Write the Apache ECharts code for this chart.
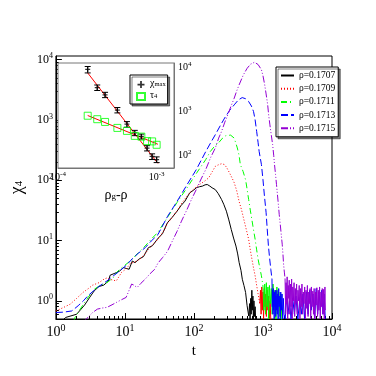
<!DOCTYPE html>
<html>
<head>
<meta charset="utf-8">
<script src="https://cdn.jsdelivr.net/npm/echarts@6/dist/echarts.min.js"></script>
<style>
  html, body { margin: 0; padding: 0; background: #fff; }
  #chart { width: 376px; height: 376px; }
</style>
</head>
<body>
<div id="chart"></div>
<script>
// main panel: chi_4(t), [t, chi4] pairs
const rho1707 = [[1.2,0.45],[1.38,0.53],[2.0,0.6],[2.6,0.85],[3.1,1.15],[3.58,1.46],[4.2,1.73],[4.93,1.82],[5.78,2.14],[6.1,2.66],[7.16,2.87],[8.4,3.13],[9.5,3.56],[11.5,3.34],[12.8,4.58],[14,4.3],[15.9,4.9],[18.6,5.42],[21.8,7.6],[25,8.2],[30,10.8],[35,13],[41.3,19.8],[48,24],[56.9,30.7],[65,38],[74,45],[87,62],[98,68],[108,75],[120,78],[133,80],[145,84],[156,85],[170,80],[183,75],[204,70],[225,60],[251,48],[270,40],[295,30.7],[320,22],[347,15.3],[375,11],[406,8.1],[430,6],[452,4.3],[480,3.2],[502,2.28],[530,1.8],[560,1.38],[589,0.83],[622,0.56]];
const tail1707 = [[640,0.9],[650,0.5],[665,1.1],[675,0.6],[690,1.5],[700,0.7],[715,1.2],[725,0.5],[740,1.0],[755,0.55],[770,0.8],[785,0.45]];

const rho1709 = [[1,0.68],[1.3,0.78],[1.61,0.88],[2.0,1.1],[2.47,1.38],[3.0,1.62],[3.4,1.82],[4.2,2.0],[5.0,2.3],[5.5,2.4],[6.3,2.25],[7.5,2.14],[9,3.0],[10.5,3.4],[12,4.2],[14,4.4],[16,4.8],[19,5.8],[22,7.2],[26,8.8],[30,10.5],[36,14],[41,19],[48,24],[57,31],[65,40],[75,50],[87,62],[100,72],[120,85],[140,95],[164,110],[185,140],[204,170],[225,180],[251,188],[265,192],[278,182],[300,160],[327,133],[355,110],[383,91],[415,68],[450,45],[490,32],[530,22],[575,15],[620,10.5],[655,7],[690,5],[730,3.5],[770,2.6],[810,1.8],[850,1.3],[900,0.9]];
const tail1709 = [[920,1.5],[940,0.6],[960,1.7],[980,0.7],[1000,1.4],[1020,0.5],[1045,1.6],[1070,0.8],[1095,1.3],[1120,0.55],[1150,1.5],[1180,0.7],[1210,1.2],[1240,0.5],[1270,1.0],[1300,0.45]];

const rho1711 = [[1.8,0.45],[1.89,0.53],[2.2,0.7],[2.6,0.94],[3.1,1.25],[3.6,1.56],[4.2,1.75],[4.9,1.89],[5.8,2.1],[6.8,2.44],[7.5,2.9],[8.4,3.34],[10,3.9],[12.8,4.9],[15,6.0],[19.6,8.1],[24,10.5],[30,13.7],[41.3,24.2],[56.9,42.8],[78.2,73],[108,129],[148,220],[172,298],[200,370],[226,414],[260,500],[290,550],[310,570],[340,560],[383,500],[425,344],[450,260],[470,182],[515,140],[560,102],[590,70],[620,48],[655,32],[690,22.4],[730,15],[770,10.5],[810,7],[850,4.9],[900,3.5],[950,2.6],[1000,1.77]];
const tail1711 = [[1030,0.7],[1060,1.9],[1090,0.6],[1120,2.0],[1150,0.8],[1180,1.7],[1210,0.5],[1240,1.8],[1280,0.9],[1320,1.6],[1360,0.6],[1400,1.9],[1440,0.7],[1490,1.5],[1540,0.5],[1590,1.7],[1640,0.8],[1700,1.4],[1760,0.55],[1820,1.3],[1880,0.45]];

const rho1713 = [[1,0.64],[1.3,0.65],[1.7,0.68],[2.1,0.83],[2.5,1.0],[2.9,1.21],[3.4,1.42],[4,1.66],[4.7,1.9],[5.5,2.14],[6.8,2.6],[8.4,3.13],[10.5,3.9],[12.8,5.0],[15.5,6.1],[19.6,7.6],[24,9.8],[30,12.5],[41.3,25],[56.9,44.5],[78.2,82],[108,150],[148,298],[175,420],[204,570],[240,800],[278,1075],[330,1450],[383,1780],[440,2150],[500,2350],[560,2250],[620,2020],[680,1700],[730,1380],[770,1000],[810,645],[850,420],[880,300],[950,182],[1000,102],[1050,55],[1110,29],[1150,16],[1200,8.1],[1250,5],[1300,3.3],[1350,2.3]];
const tail1713 = [[1365,0.8],[1380,1.5],[1395,0.6],[1410,1.6],[1425,0.7],[1440,1.3],[1455,0.5],[1470,1.4],[1490,0.8],[1510,1.5],[1530,0.55],[1550,1.2],[1570,0.7],[1590,1.5],[1610,0.6],[1630,1.3],[1660,0.5],[1690,1.6],[1720,0.8],[1750,1.2],[1780,0.5],[1810,1.4],[1850,0.7],[1890,1.3],[1930,0.5],[1970,1.1],[2020,0.6],[2100,0.5],[2200,1.2],[2300,0.6],[2420,1.0],[2550,0.5],[2700,1.1],[2850,0.6],[3000,1.2],[3200,0.5],[3400,1.0],[3600,0.6],[3800,1.3],[4000,0.5],[4250,1.4],[4500,0.6],[4750,1.5],[5000,0.7],[5300,1.3],[5600,0.5],[5900,1.6],[6200,0.6],[6500,1.4],[6800,0.7],[7100,1.5],[7400,0.6],[7700,1.3],[8000,0.5]];

const rho1715 = [[2.5,0.45],[2.9,0.53],[3.4,0.64],[4.0,0.73],[4.7,0.76],[5.5,0.78],[6.5,0.86],[7.5,0.94],[9,1.05],[10.4,1.14],[11.5,1.5],[12.5,1.9],[13.5,1.82],[15,1.66],[17,1.95],[19.6,2.28],[23,2.8],[27,3.34],[30,4.2],[35,5.2],[41.3,6.6],[48,9.5],[56.9,14.2],[66,21],[78.2,31.6],[92,48],[108,70],[127,105],[148,150],[175,240],[204,344],[228,500],[252,650],[280,920],[310,1230],[345,1700],[383,2300],[415,3000],[450,3800],[520,5600],[590,7200],[660,8400],[753,9060],[850,8300],[950,6800],[1000,5400],[1060,3800],[1110,2700],[1170,1780],[1210,1200],[1260,830],[1320,560],[1380,390],[1430,260],[1470,182],[1520,125],[1570,85],[1620,58],[1670,40],[1720,27],[1780,18.5],[1840,12.5],[1900,8.7],[1950,5.8],[1990,4.0],[2040,3.0],[2090,2.3]];
const tail1715 = [[2100,2.4],[2130,0.6],[2160,2.0],[2200,0.9],[2240,2.5],[2280,0.5],[2320,1.8],[2360,1.1],[2400,2.2],[2450,0.6],[2500,1.9],[2550,0.8],[2600,2.3],[2650,0.5],[2700,1.7],[2760,1.0],[2820,2.0],[2880,0.55],[2940,1.6],[3000,0.9],[3070,1.9],[3140,0.6],[3210,1.5],[3280,1.0],[3350,1.8],[3430,0.5],[3510,1.6],[3590,0.8],[3670,1.9],[3750,0.6],[3840,1.4],[3930,0.9],[4020,1.7],[4110,0.5],[4200,1.5],[4300,0.75],[4400,1.8],[4500,0.55],[4600,1.4],[4700,0.9],[4810,1.6],[4920,0.5],[5030,1.7],[5150,0.8],[5270,1.45],[5390,0.6],[5510,1.6],[5640,0.5],[5770,1.4],[5900,0.85],[6040,1.65],[6180,0.55],[6320,1.5],[6460,0.7],[6610,1.7],[6760,0.5],[6910,1.4],[7070,0.8],[7230,1.6],[7390,0.6],[7560,1.55],[7730,0.5],[7900,1.7],[8000,0.7]];

// inset: chi_max and tau_4 against rho_g - rho
const dRho = [2e-4, 2.5e-4, 3e-4, 4e-4, 5e-4, 6e-4, 7e-4, 8e-4, 9e-4, 1e-3];
const chiMax = [9000, 3490, 2390, 1077, 513, 327, 271, 147, 95, 81];
const chiErr = [1500, 500, 330, 150, 75, 45, 35, 20, 14, 12];
const tau4 = [800, 667, 578, 423, 362, 279, 268, 212, 209, 175];
const chiFit = [[2e-4, 7500], [1.03e-3, 66]];
const tauFit = [[2e-4, 810], [1.03e-3, 180]];

// tick values
const tMajor = [1, 10, 100, 1000, 10000];
const tMinor = [2,3,4,5,6,7,8,9,20,30,40,50,60,70,80,90,200,300,400,500,600,700,800,900,2000,3000,4000,5000,6000,7000,8000,9000];
const chiMajor = [1, 10, 100, 1000, 10000];
const chiMinor = [0.6,0.7,0.8,0.9,2,3,4,5,6,7,8,9,20,30,40,50,60,70,80,90,200,300,400,500,600,700,800,900,2000,3000,4000,5000,6000,7000,8000,9000];
const dMajor = [1e-4, 1e-3];
const dMinor = [2e-4, 3e-4, 4e-4, 5e-4, 6e-4, 7e-4, 8e-4, 9e-4];
const insetMajor = [100, 1000, 10000];

const names = ['ρ=0.1707', 'ρ=0.1709', 'ρ=0.1711', 'ρ=0.1713', 'ρ=0.1715'];
const colors = ['#000000', '#ff0000', '#00ff00', '#0000ff', '#9400d3'];
const dashes = ['solid', [1, 2], [6, 3, 1, 3], [7, 3], [7, 2, 1, 2, 1, 2]];

const serif = 'Liberation Serif';
const pow10 = (v) => {
  const e = Math.round(Math.log10(v));
  return '{b|10}{s|' + e + '}';
};

const chart = echarts.init(document.getElementById('chart'), null, { renderer: 'canvas' });

const curves = [rho1707, rho1709, rho1711, rho1713, rho1715];
const tails = [tail1707, tail1709, tail1711, tail1713, tail1715];

const series = [];
curves.forEach((c, i) => {
  series.push({
    name: names[i], type: 'line', xAxisIndex: 0, yAxisIndex: 0,
    data: c, symbol: 'none', clip: true,
    lineStyle: { color: colors[i], width: 1, type: dashes[i] },
    itemStyle: { color: colors[i] }, z: 2 + i
  });
});
// noisy tails drawn solid so they read as a dense band
tails.forEach((c, i) => {
  series.push({
    name: 'tail' + i, type: 'line', xAxisIndex: 0, yAxisIndex: 0,
    data: [curves[i][curves[i].length - 1]].concat(c), symbol: 'none', clip: true,
    lineStyle: { color: colors[i], width: 1 }, z: 2 + i
  });
});

// inset
series.push({
  name: 'fitChi', type: 'line', xAxisIndex: 2, yAxisIndex: 2, data: chiFit,
  symbol: 'none', lineStyle: { color: '#ff0000', width: 1 }, z: 12
});
series.push({
  name: 'fitTau', type: 'line', xAxisIndex: 2, yAxisIndex: 2, data: tauFit,
  symbol: 'none', lineStyle: { color: '#ff0000', width: 1 }, z: 12
});
series.push({
  name: 'errbars', type: 'custom', xAxisIndex: 2, yAxisIndex: 2,
  data: dRho.map((x, i) => [x, chiMax[i], chiErr[i]]),
  renderItem: (params, api) => {
    const x = api.value(0), y = api.value(1), e = api.value(2);
    const lo = api.coord([x, y - e]), hi = api.coord([x, y + e]);
    const w = 3;
    const st = { stroke: '#000', lineWidth: 1 };
    return {
      type: 'group', children: [
        { type: 'line', shape: { x1: lo[0], y1: lo[1], x2: hi[0], y2: hi[1] }, style: st },
        { type: 'line', shape: { x1: lo[0] - w, y1: lo[1], x2: lo[0] + w, y2: lo[1] }, style: st },
        { type: 'line', shape: { x1: hi[0] - w, y1: hi[1], x2: hi[0] + w, y2: hi[1] }, style: st }
      ]
    };
  },
  z: 13
});
series.push({
  name: 'chimax', type: 'scatter', xAxisIndex: 2, yAxisIndex: 2,
  data: dRho.map((x, i) => [x, chiMax[i]]),
  symbol: 'path://M-0.25,-1H0.25V-0.25H1V0.25H0.25V1H-0.25V0.25H-1V-0.25H-0.25Z',
  symbolSize: 5, itemStyle: { color: '#000' }, z: 14
});
series.push({
  name: 'tau4', type: 'scatter', xAxisIndex: 2, yAxisIndex: 2,
  data: dRho.map((x, i) => [x, tau4[i]]),
  symbol: 'rect', symbolSize: 7,
  itemStyle: { color: 'rgba(0,0,0,0)', borderColor: '#00ff00', borderWidth: 1 }, z: 14
});

const mainLabelRich = {
  b: { fontFamily: serif, fontSize: 14, color: '#000' },
  s: { fontFamily: serif, fontSize: 10, color: '#000', padding: [0, 0, 8, 0] }
};
const yLabelRich = {
  b: { fontFamily: serif, fontSize: 12, color: '#000' },
  s: { fontFamily: serif, fontSize: 8, color: '#000', padding: [0, 0, 7, 0] }
};
const insetLabelRich = {
  b: { fontFamily: serif, fontSize: 10, color: '#000' },
  s: { fontFamily: serif, fontSize: 7, color: '#000', padding: [0, 0, 6, 0] }
};

const option = {
  animation: false,
  backgroundColor: '#fff',
  grid: [
    { left: 43, right: 44, top: 56, bottom: 57, show: true, borderColor: '#000', borderWidth: 1 },
    { left: 58, top: 63, width: 116, height: 105, show: true, borderColor: '#777', borderWidth: 1, backgroundColor: '#fff', z: 3 }
  ],
  xAxis: [
    {
      gridIndex: 0, type: 'log', min: 1, max: 10000, position: 'bottom',
      name: 't', nameLocation: 'middle', nameGap: 19,
      nameTextStyle: { fontFamily: serif, fontSize: 15, color: '#000' },
      axisLine: { lineStyle: { color: '#000' } },
      axisTick: { inside: true, length: 6, customValues: tMajor, lineStyle: { color: '#000' } },
      axisLabel: { customValues: tMajor, margin: 4, formatter: pow10, rich: mainLabelRich },
      splitLine: { show: false }
    },
    {
      gridIndex: 0, type: 'log', min: 1, max: 10000, position: 'bottom',
      axisLine: { show: false },
      axisTick: { inside: true, length: 3, customValues: tMinor, lineStyle: { color: '#000' } },
      axisLabel: { show: false }, splitLine: { show: false }
    },
    {
      gridIndex: 1, type: 'log', min: 1e-4, max: 1.5e-3, position: 'bottom',
      name: '{a|ρ}{g|g}{a|-ρ}', nameLocation: 'middle', nameGap: 20,
      nameTextStyle: {
        rich: {
          a: { fontFamily: serif, fontSize: 14, color: '#000', padding: [0, 0, 3, 0] },
          g: { fontFamily: serif, fontSize: 9, color: '#000' }
        }
      },
      axisLine: { lineStyle: { color: '#777' } },
      axisTick: { inside: true, length: 5, customValues: dMajor, lineStyle: { color: '#555' } },
      axisLabel: { customValues: dMajor, margin: 3, formatter: pow10, rich: insetLabelRich },
      splitLine: { show: false }
    },
    {
      gridIndex: 1, type: 'log', min: 1e-4, max: 1.5e-3, position: 'bottom',
      axisLine: { show: false },
      axisTick: { inside: true, length: 3, customValues: dMinor, lineStyle: { color: '#555' } },
      axisLabel: { show: false }, splitLine: { show: false }
    }
  ],
  yAxis: [
    {
      gridIndex: 0, type: 'log', min: 0.5, max: 11500, position: 'left',
      name: '{c|χ}{d|4}', nameLocation: 'middle', nameGap: 21, nameRotate: 90,
      nameTextStyle: {
        rich: {
          c: { fontFamily: serif, fontSize: 18, color: '#000', padding: [0, 0, 4, 0] },
          d: { fontFamily: serif, fontSize: 11, color: '#000' }
        }
      },
      axisLine: { lineStyle: { color: '#000' } },
      axisTick: { inside: true, length: 6, customValues: chiMajor, lineStyle: { color: '#000' } },
      axisLabel: { customValues: chiMajor, margin: 3, formatter: pow10, rich: yLabelRich },
      splitLine: { show: false }
    },
    {
      gridIndex: 0, type: 'log', min: 0.5, max: 11500, position: 'left',
      axisLine: { show: false },
      axisTick: { inside: true, length: 3, customValues: chiMinor, lineStyle: { color: '#000' } },
      axisLabel: { show: false }, splitLine: { show: false }
    },
    {
      gridIndex: 1, type: 'log', min: 52, max: 12600, position: 'right',
      axisLine: { lineStyle: { color: '#777' } },
      axisTick: { inside: true, length: 5, customValues: insetMajor, lineStyle: { color: '#555' } },
      axisLabel: { customValues: insetMajor, margin: 4, formatter: pow10, rich: insetLabelRich },
      splitLine: { show: false }
    }
  ],
  legend: [
    {
      data: names, orient: 'vertical', left: 276, top: 67,
      padding: [3, 3, 3, 4], itemWidth: 13, itemHeight: 8, itemGap: 2.2,
      itemStyle: { opacity: 0 },
      backgroundColor: '#fff', borderColor: '#000', borderWidth: 1,
      shadowColor: 'rgba(0,0,0,0.5)', shadowOffsetX: 2, shadowOffsetY: 2, shadowBlur: 0,
      textStyle: { fontFamily: serif, fontSize: 9.5, color: '#000', lineHeight: 11 }
    },
    {
      data: ['chimax', 'tau4'], orient: 'vertical', left: 130, top: 75,
      padding: [3, 2, 3, 6], itemWidth: 8, itemHeight: 7, itemGap: 2,
      backgroundColor: '#fff', borderColor: '#000', borderWidth: 1,
      shadowColor: 'rgba(0,0,0,0.5)', shadowOffsetX: 2, shadowOffsetY: 2, shadowBlur: 0,
      formatter: (n) => n === 'chimax' ? '{a|χ}{s|max}' : '{a|τ}{s|4}',
      textStyle: {
        rich: {
          a: { fontFamily: serif, fontSize: 10, color: '#000', padding: [0, 0, 3, 0] },
          s: { fontFamily: serif, fontSize: 6.5, color: '#000' }
        }
      }
    }
  ],
  series: series
};

chart.setOption(option);
</script>
</body>
</html>
